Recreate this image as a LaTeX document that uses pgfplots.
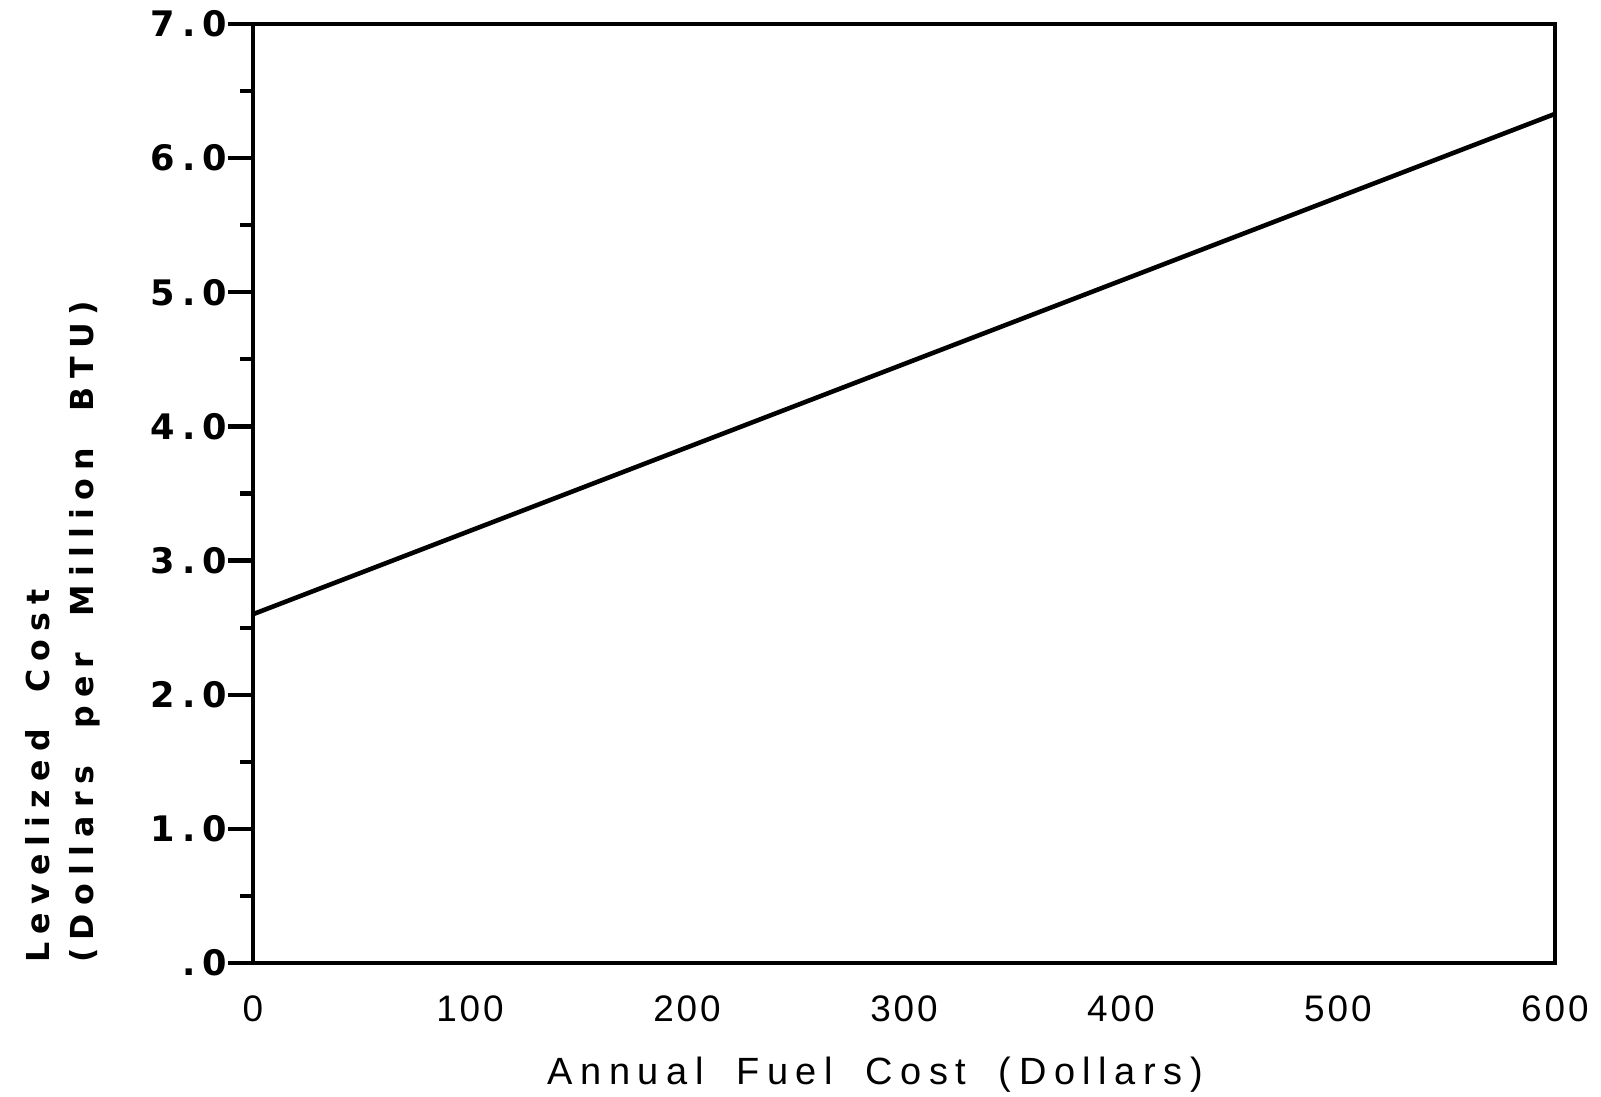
\documentclass[border=0pt]{standalone}
\usepackage{fontspec}
\usepackage{pgfplots}
\pgfplotsset{compat=1.18}
\setmainfont{Liberation Sans}
\newfontfamily\ytickfont{DejaVu Sans}[LetterSpace=20]
\newfontfamily\xtickfont{Liberation Sans}[LetterSpace=8]
\newfontfamily\xlabfont{Liberation Sans}[LetterSpace=20, WordSpace=1.8]
\newfontfamily\ylabfont{DejaVu Sans}[LetterSpace=26, WordSpace=1.9]
\begin{document}
\begin{tikzpicture}
\begin{axis}[
    scale only axis,
    width=130.2mm,
    height=93.9mm,
    xmin=0, xmax=600,
    ymin=0, ymax=7,
    axis line style={line width=1.4pt},
    xtick={0,100,200,300,400,500,600},
    xticklabels={0,100,200,300,400,500,600},
    xtick style={draw=none},
    xtick pos=bottom,
    xticklabel style={font=\xtickfont\fontsize{10.5}{12}\selectfont, inner sep=1pt, yshift=-1pt},
    ytick={0,1,2,3,4,5,6,7},
    yticklabels={.0,1.0,2.0,3.0,4.0,5.0,6.0,7.0},
    minor y tick num=1,
    ytick pos=left,
    tick align=outside,
    major tick length=2.5mm,
    minor tick length=1.3mm,
    ytick style={line width=1.2pt, black},
    yticklabel style={font=\ytickfont\bfseries\fontsize{10}{12}\selectfont, inner sep=0pt},
    xlabel={Annual Fuel Cost (Dollars)},
    xlabel style={font=\xlabfont\fontsize{10.8}{12}\selectfont, at={(axis description cs:0.478,-0.1289)}, anchor=base},
    ylabel={Levelized Cost\\(Dollars per Million BTU)},
    ylabel style={font=\ylabfont\bfseries\fontsize{9}{12.5}\selectfont, align=left, at={(axis description cs:-0.108,-0.013)}, anchor=south west},
]
\addplot[black, line width=1.3pt] coordinates {(0,2.60) (600,6.33)};
\end{axis}
\pgfresetboundingbox
\path (current axis.south west) ++(-25.3mm,-13.3mm) rectangle ++(160.1mm,109.6mm);
\end{tikzpicture}
\end{document}
